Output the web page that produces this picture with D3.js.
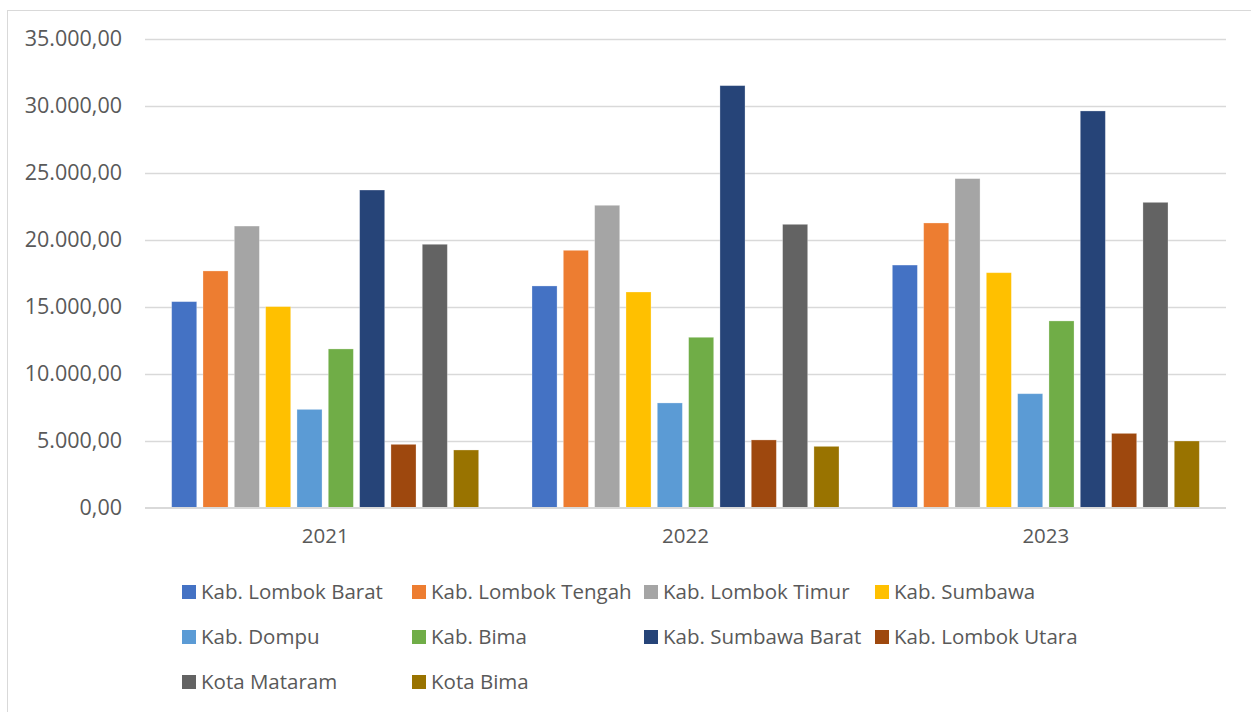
<!DOCTYPE html>
<html>
<head>
<meta charset="utf-8">
<script src="https://cdn.jsdelivr.net/npm/d3@7"></script>
<style>
  html, body { margin: 0; padding: 0; background: #fff; }
  svg { display: block; }
  text { font-family: "Open Sans", "DejaVu Sans", sans-serif; fill: #595959; }
</style>
</head>
<body>
<svg id="chart" width="1251" height="712"></svg>
<script>
// ---- data ----
const years = ["2021", "2022", "2023"];
const regions = ["Kab. Lombok Barat", "Kab. Lombok Tengah", "Kab. Lombok Timur", "Kab. Sumbawa",
  "Kab. Dompu", "Kab. Bima", "Kab. Sumbawa Barat", "Kab. Lombok Utara", "Kota Mataram", "Kota Bima"];
const values2021 = [15400, 17690, 21040, 15030, 7360, 11870, 23730, 4750, 19680, 4330];
const values2022 = [16570, 19230, 22590, 16120, 7840, 12740, 31520, 5080, 21170, 4600];
const values2023 = [18130, 21270, 24580, 17560, 8530, 13960, 29630, 5570, 22810, 5000];
const yTicks = [0, 5000, 10000, 15000, 20000, 25000, 30000, 35000];
const colors = ["#4472C4", "#ED7D31", "#A5A5A5", "#FFC000", "#5B9BD5", "#70AD47", "#264478", "#9E480E", "#636363", "#997300"];

const seriesByYear = [values2021, values2022, values2023];

const svg = d3.select("#chart");

// chart area border
svg.append("rect")
  .attr("x", 7.5).attr("y", 10.5)
  .attr("width", 1260).attr("height", 720)
  .attr("fill", "none").attr("stroke", "#d9d9d9").attr("stroke-width", 1);

const plot = { left: 145, right: 1226, top: 39, bottom: 508 };

const y = d3.scaleLinear().domain([0, 35000]).range([plot.bottom, plot.top]);
const x0 = d3.scaleBand().domain(years).range([plot.left, plot.right])
  .paddingInner(0.148).paddingOuter(0.074);
const x1 = d3.scaleBand().domain(regions).range([0, x0.bandwidth()])
  .paddingInner(0.2).paddingOuter(0);

const fmt = v => {
  const s = d3.format(",.2f")(v);
  return s.replace(/,/g, "#").replace(/\./g, ",").replace(/#/g, ".");
};

// gridlines
const grid = svg.append("g");
grid.selectAll("line").data(yTicks.filter(t => t > 0)).join("line")
  .attr("x1", plot.left).attr("x2", plot.right)
  .attr("y1", d => Math.round(y(d)) + 0.5).attr("y2", d => Math.round(y(d)) + 0.5)
  .attr("stroke", "#d9d9d9").attr("stroke-width", 1.3);

// y axis labels
const yAxis = d3.axisLeft(y).tickValues(yTicks).tickFormat(fmt).tickSize(0).tickPadding(23);
const gy = svg.append("g").attr("transform", `translate(${plot.left},0)`).call(yAxis);
gy.select(".domain").remove();
gy.selectAll("text").style("font-size", "21.5px").attr("fill", "#595959")
  .attr("font-family", "'Open Sans', sans-serif");

// bars
const groups = svg.append("g").selectAll("g").data(years).join("g")
  .attr("transform", d => `translate(${x0(d)},0)`);
groups.selectAll("rect")
  .data((d, i) => regions.map((r, j) => ({ region: r, value: seriesByYear[i][j], color: colors[j] })))
  .join("rect")
  .attr("x", d => x1(d.region))
  .attr("width", x1.bandwidth())
  .attr("y", d => y(d.value))
  .attr("height", d => y(0) - y(d.value))
  .attr("fill", d => d.color)
  .attr("stroke", "#ffffff").attr("stroke-opacity", 0.35).attr("stroke-width", 0.8);

// baseline / x axis
const xAxis = d3.axisBottom(x0).tickSize(0).tickPadding(20);
const gx = svg.append("g").attr("transform", `translate(0,${plot.bottom})`).call(xAxis);
gx.select(".domain").remove();
gx.selectAll("text").style("font-size", "20.5px").attr("fill", "#595959")
  .attr("font-family", "'Open Sans', sans-serif");
svg.append("line")
  .attr("x1", plot.left).attr("x2", plot.right)
  .attr("y1", plot.bottom).attr("y2", plot.bottom)
  .attr("stroke", "#d9d9d9").attr("stroke-width", 1.8);

// legend
const legendCols = [182, 412, 644, 875];
const legendRows = [592, 637, 682];
const legend = svg.append("g");
regions.forEach((r, i) => {
  const col = i % 4, row = Math.floor(i / 4);
  const g = legend.append("g").attr("transform", `translate(${legendCols[col]},${legendRows[row]})`);
  g.append("rect").attr("x", 0).attr("y", -7).attr("width", 14).attr("height", 14).attr("fill", colors[i]);
  g.append("text").attr("x", 19).attr("y", 0).attr("dy", "0.35em")
    .style("font-size", "20.5px").text(r);
});
</script>
</body>
</html>
